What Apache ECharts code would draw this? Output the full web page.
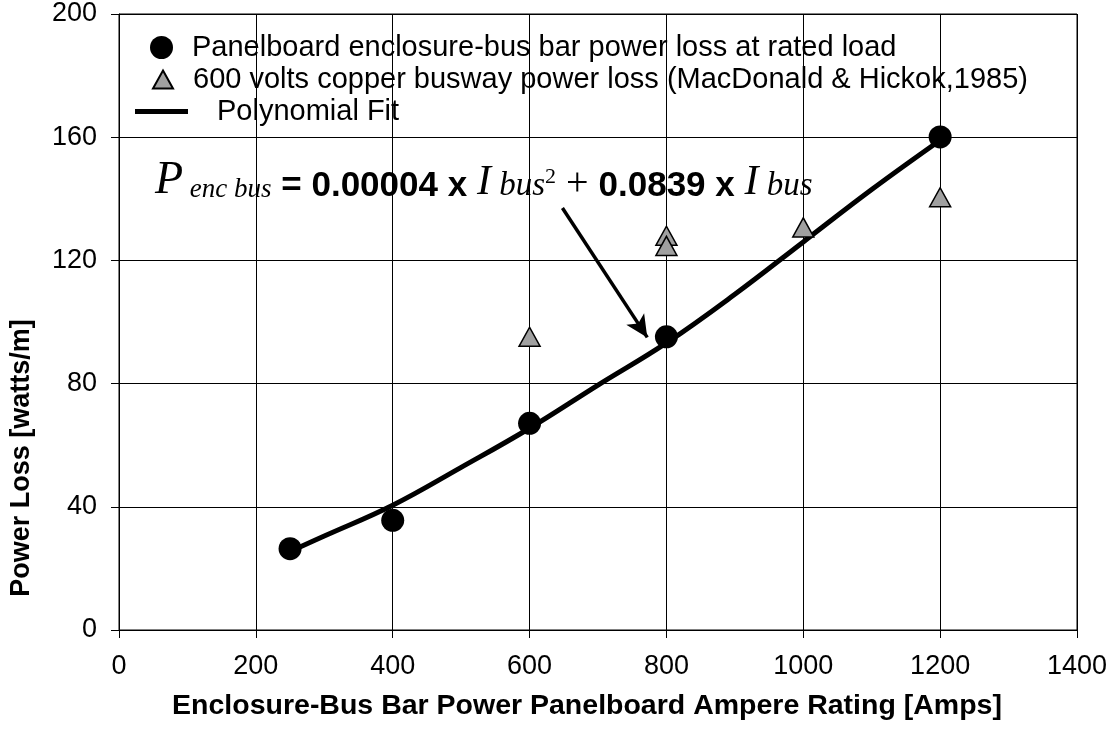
<!DOCTYPE html>
<html>
<head>
<meta charset="utf-8">
<script src="https://cdn.jsdelivr.net/npm/echarts@6/dist/echarts.min.js"></script>
<style>
  html, body { margin: 0; background: #fff; }
  #chart { width: 1114px; height: 734px; }
</style>
</head>
<body>
<div id="chart"></div>
<script>
const ratedAmps = [250, 400, 600, 800, 1200]
const ratedLoss = [26.4, 35.6, 67.1, 95.2, 160.1]

const buswayAmps = [600, 800, 800, 1000, 1200]
const buswayLoss = [95.2, 128, 124.7, 130.7, 140.5]

const fitAmps = [250, 300, 400, 500, 600, 700, 800, 900, 1000, 1100, 1200]
const fitLoss = [25.5, 30.5, 40.5, 52.8, 65.5, 79.5, 93.2, 109, 126, 143, 159]

const seriesNames = [
  'Panelboard enclosure-bus bar power loss at rated load',
  '600 volts copper busway power loss (MacDonald & Hickok,1985)',
  'Polynomial Fit'
]

const zip = (xs, ys) => xs.map((x, i) => [x, ys[i]])

const sans = 'Liberation Sans, Arial, sans-serif'
const serif = 'Liberation Serif, Times New Roman, serif'

const chart = echarts.init(document.getElementById('chart'))

const legendText = { fontFamily: sans, fontSize: 29, color: '#000' }

chart.setOption({
  backgroundColor: '#fff',
  animation: false,
  grid: {
    left: 119, right: 37, top: 14, bottom: 104,
    show: true, borderColor: '#000', borderWidth: 1
  },
  legend: [
    {
      data: [{ name: seriesNames[0], icon: 'circle' }],
      left: 150, top: 33, padding: 0,
      itemWidth: 23, itemHeight: 23,
      textStyle: { ...legendText, padding: [0, 0, 0, 14] },
      selectedMode: false
    },
    {
      data: [{ name: seriesNames[1], icon: 'triangle' }],
      left: 152, top: 65, padding: 0,
      itemWidth: 20, itemHeight: 18,
      textStyle: { ...legendText, padding: [0, 0, 0, 15] },
      selectedMode: false
    },
    {
      data: [{ name: seriesNames[2], icon: 'rect' }],
      left: 135, top: 97, padding: 0,
      itemWidth: 53, itemHeight: 5,
      textStyle: { ...legendText, padding: [0, 0, 0, 24] },
      selectedMode: false
    }
  ],
  xAxis: {
    type: 'value',
    min: 0, max: 1400, interval: 200,
    name: 'Enclosure-Bus Bar Power Panelboard Ampere Rating [Amps]',
    nameLocation: 'middle',
    nameGap: 62,
    nameTextStyle: {
      fontFamily: sans, fontWeight: 'bold', fontSize: 28.5, color: '#000',
      padding: [0, 22, 0, 0]
    },
    axisLine: { lineStyle: { color: '#000', width: 1 } },
    axisTick: { show: true, length: 8, lineStyle: { color: '#000' } },
    axisLabel: { fontFamily: sans, fontSize: 27, color: '#000', margin: 23, formatter: v => String(v) },
    splitLine: { show: true, lineStyle: { color: '#000', width: 1 } }
  },
  yAxis: {
    type: 'value',
    min: 0, max: 200, interval: 40,
    name: 'Power Loss [watts/m]',
    nameLocation: 'middle',
    nameGap: 84,
    nameTextStyle: {
      fontFamily: sans, fontWeight: 'bold', fontSize: 27, color: '#000',
      padding: [0, 272, 0, 0]
    },
    axisLine: { show: true, lineStyle: { color: '#000', width: 1 } },
    axisTick: { show: true, length: 8, lineStyle: { color: '#000' } },
    axisLabel: { fontFamily: sans, fontSize: 27, color: '#000', margin: 22 },
    splitLine: { show: true, lineStyle: { color: '#000', width: 1 } }
  },
  series: [
    {
      name: seriesNames[2],
      type: 'line',
      data: zip(fitAmps, fitLoss),
      smooth: 0.4,
      symbol: 'none',
      lineStyle: { color: '#000', width: 5 },
      itemStyle: { color: '#000' },
      z: 2,
      markLine: {
        silent: true,
        symbol: ['none', 'arrow'],
        symbolSize: [16, 22],
        label: { show: false },
        lineStyle: { color: '#000', width: 3.5, type: 'solid' },
        data: [[{ coord: [648, 137] }, { coord: [772, 95] }]]
      }
    },
    {
      name: seriesNames[1],
      type: 'scatter',
      data: zip(buswayAmps, buswayLoss),
      symbol: 'triangle',
      symbolSize: [21, 19],
      itemStyle: { color: '#a0a0a0', borderColor: '#000', borderWidth: 1.5, opacity: 1 },
      z: 3
    },
    {
      name: seriesNames[0],
      type: 'scatter',
      data: zip(ratedAmps, ratedLoss),
      symbol: 'circle',
      symbolSize: 23,
      itemStyle: { color: '#000', opacity: 1 },
      z: 4
    }
  ],
  graphic: [
    {
      type: 'text',
      left: 155,
      top: 158,
      z: 10,
      style: {
        text: '{P|P}{s| enc bus}{b| = 0.00004 x }{I|I}{t| bus}{sup|2}{r| + }{b|0.0839 x }{I|I}{t| bus}',
        rich: {
          P: { fontFamily: serif, fontStyle: 'italic', fontSize: 46, color: '#000', verticalAlign: 'bottom' },
          s: { fontFamily: serif, fontStyle: 'italic', fontSize: 27, color: '#000', verticalAlign: 'bottom', padding: [0, 0, 1, 0] },
          t: { fontFamily: serif, fontStyle: 'italic', fontSize: 33, color: '#000', verticalAlign: 'bottom', padding: [0, 0, 1, 0] },
          b: { fontFamily: sans, fontWeight: 'bold', fontSize: 35, color: '#000', verticalAlign: 'bottom' },
          I: { fontFamily: serif, fontStyle: 'italic', fontSize: 42, color: '#000', verticalAlign: 'bottom' },
          sup: { fontFamily: serif, fontSize: 22, color: '#000', verticalAlign: 'bottom', padding: [0, 0, 16, 0] },
          r: { fontFamily: serif, fontSize: 40, color: '#000', verticalAlign: 'bottom' }
        }
      }
    }
  ]
})
</script>
</body>
</html>
